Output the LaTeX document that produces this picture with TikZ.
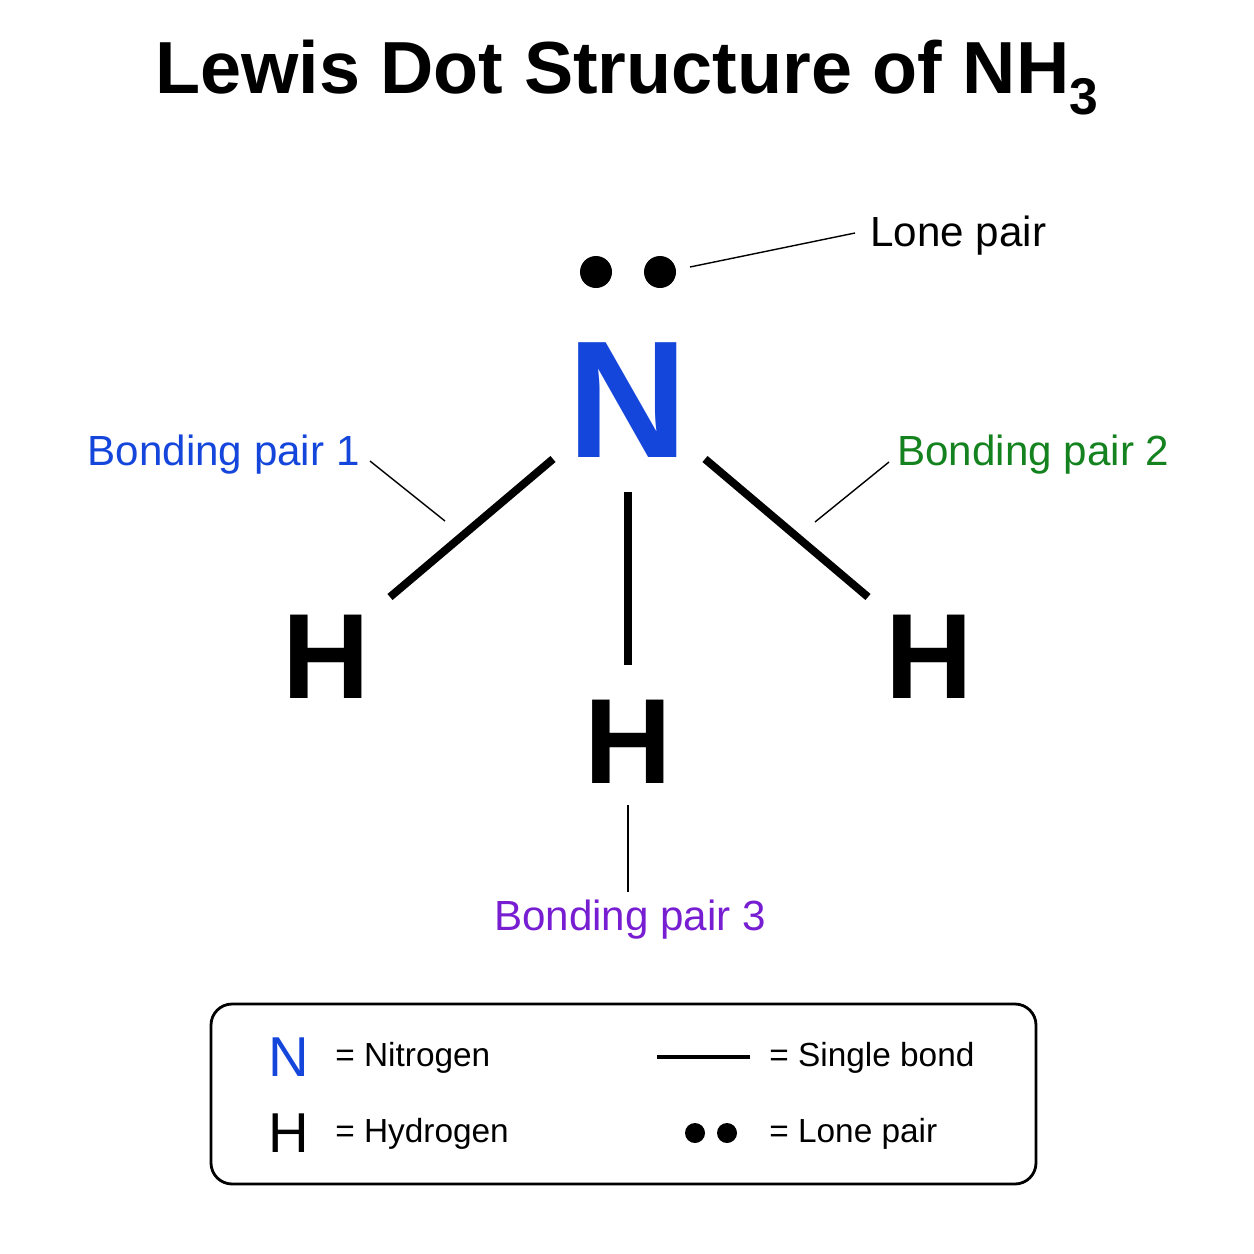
\documentclass[tikz,border=0pt]{standalone}
\usepackage{fontspec}
\setmainfont{Liberation Sans}
\begin{document}
\begin{tikzpicture}[x=0.02cm,y=-0.02cm,
  bond/.style={line width=4.5pt},
  lead/.style={line width=0.8pt},
  lbl/.style={font=\fontsize{24}{28}\selectfont, inner sep=0pt},
  atom/.style={font=\bfseries\fontsize{69}{72}\selectfont, inner sep=0pt},
  leg/.style={font=\fontsize{19}{22}\selectfont, inner sep=0pt, anchor=west}]
\useasboundingbox (0,0) rectangle (1254,1254);
\definecolor{nblue}{RGB}{20,70,220}
\definecolor{bgreen}{RGB}{20,130,30}
\definecolor{bpurple}{RGB}{120,30,210}
\node[font=\bfseries\fontsize{42}{46}\selectfont] (title) at (627,78) {Lewis Dot Structure of NH\textsubscript{3}};
\fill (596,272) circle (16) (660,272) circle (16);
\coordinate (lpA) at (690,267);
\node[lbl, anchor=west] (lp) at (870,236) {Lone pair};
\draw[lead] (lpA) -- (855,233);
\node[font=\bfseries\fontsize{95}{98}\selectfont, text=nblue, inner sep=0pt] (N) at (628,400) {N};
\node[atom] (H1) at (326,657) {H};
\node[atom] (H2) at (628,742) {H};
\node[atom] (H3) at (929,657) {H};
\coordinate (b1a) at (553,459); \coordinate (b1b) at (390,597);
\coordinate (b2a) at (628,492); \coordinate (b2b) at (628,665);
\coordinate (b3a) at (705,459); \coordinate (b3b) at (868,597);
\draw[bond] (b1a) -- (b1b);
\draw[bond] (b2a) -- (b2b);
\draw[bond] (b3a) -- (b3b);
\node[lbl, anchor=east, text=nblue] (bp1) at (360,455) {Bonding pair 1};
\draw[lead] (370,461) -- (445,521);
\node[lbl, anchor=west, text=bgreen] (bp2) at (897,455) {Bonding pair 2};
\draw[lead] (889,462) -- (815,522);
\node[lbl, text=bpurple] (bp3) at (630,920) {Bonding pair 3};
\draw[lead] (628,805) -- (628,892);
\draw[line width=1.6pt, rounded corners=12pt] (211,1004) rectangle (1036,1184);
\node[font=\fontsize{32}{34}\selectfont, text=nblue, inner sep=0pt] (lN) at (289,1057) {N};
\node[font=\fontsize{32}{34}\selectfont, inner sep=0pt] (lH) at (289,1133) {H};
\node[leg] at (335,1058) {= Nitrogen};
\node[leg] at (335,1134) {= Hydrogen};
\draw[line width=2.8pt] (657,1057) -- (750,1057);
\node[leg] at (769,1058) {= Single bond};
\fill (695,1133) circle (10) (727,1133) circle (10);
\node[leg] at (769,1134) {= Lone pair};
\end{tikzpicture}
\end{document}
